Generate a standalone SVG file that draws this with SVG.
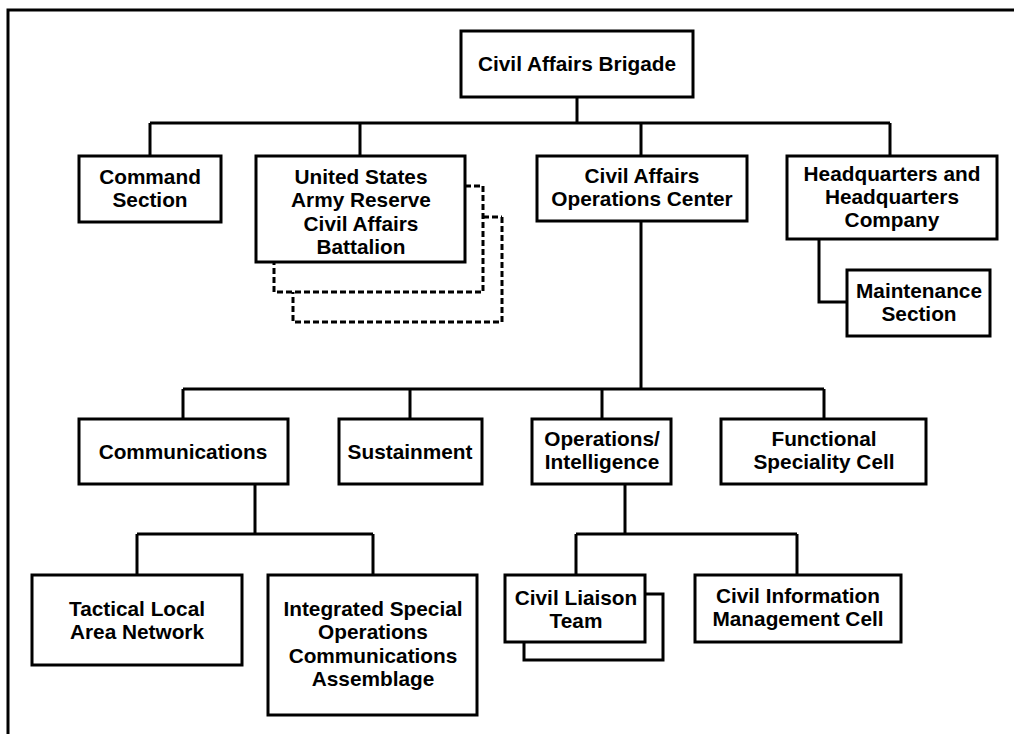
<svg xmlns="http://www.w3.org/2000/svg" width="1014" height="734" viewBox="0 0 1014 734">
<style>
.box{fill:#fff;stroke:#000;stroke-width:3}
.sh{fill:none;stroke:#000;stroke-width:3}
.dash{fill:none;stroke:#000;stroke-width:3;stroke-dasharray:6 3}
.ln{fill:none;stroke:#000;stroke-width:3}
text{font-family:"Liberation Sans",Arial,sans-serif;font-weight:bold;font-size:20.8px;text-anchor:middle;fill:#000}
</style>
<rect width="1014" height="734" fill="#fff"/>
<polyline class="ln" points="8,734 8,10 1014,10"/>
<g id="connectors">
<path class="ln" d="M577,97 V123 M150,123 H890 M150,123 V156 M360,123 V156 M641,123 V156 M890,123 V156"/>
<path class="ln" d="M819,239 V302 H847"/>
<path class="ln" d="M641,221 V389 M183,389 H824 M183,389 V419 M410,389 V419 M602,389 V419 M824,389 V419"/>
<path class="ln" d="M255,484 V534 M137,534 H373 M137,534 V575 M373,534 V575"/>
<path class="ln" d="M625,484 V534 M576,534 H797 M576,534 V575 M797,534 V575"/>
</g>
<g id="brigade"><rect class="box" x="461" y="31" width="232" height="66"/><text x="577" y="71">Civil Affairs Brigade</text></g>
<g id="command"><rect class="box" x="79" y="156" width="142" height="66"/><text x="150" y="184">Command</text><text x="150" y="207">Section</text></g>
<g id="usar">
<polyline class="dash" points="502,217 502,322 293,322 293,292"/>
<polyline class="dash" points="465,186 483,186 483,292 274,292 274,262"/>
<polyline class="dash" points="483,217 502,217"/>
<rect class="box" x="256" y="156" width="209" height="106"/>
<text x="361" y="184">United States</text><text x="361" y="207">Army Reserve</text><text x="361" y="231">Civil Affairs</text><text x="361" y="254">Battalion</text></g>
<g id="caoc"><rect class="box" x="537" y="156" width="210" height="65"/><text x="642" y="183">Civil Affairs</text><text x="642" y="206">Operations Center</text></g>
<g id="hhc"><rect class="box" x="787" y="156" width="210" height="83"/><text x="892" y="181">Headquarters and</text><text x="892" y="204">Headquarters</text><text x="892" y="227">Company</text></g>
<g id="maintenance"><rect class="box" x="847" y="270" width="143" height="66"/><text x="919" y="298">Maintenance</text><text x="919" y="321">Section</text></g>
<g id="communications"><rect class="box" x="79" y="419" width="209" height="65"/><text x="183" y="459">Communications</text></g>
<g id="sustainment"><rect class="box" x="339" y="419" width="143" height="65"/><text x="410" y="459">Sustainment</text></g>
<g id="opsintel"><rect class="box" x="532" y="419" width="139" height="65"/><text x="602" y="446">Operations/</text><text x="602" y="469">Intelligence</text></g>
<g id="functional"><rect class="box" x="721" y="419" width="205" height="65"/><text x="824" y="446">Functional</text><text x="824" y="469">Speciality Cell</text></g>
<g id="tlan"><rect class="box" x="32" y="575" width="210" height="90"/><text x="137" y="616">Tactical Local</text><text x="137" y="639">Area Network</text></g>
<g id="isoca"><rect class="box" x="268" y="575" width="209" height="140"/><text x="373" y="616">Integrated Special</text><text x="373" y="639">Operations</text><text x="373" y="663">Communications</text><text x="373" y="686">Assemblage</text></g>
<g id="clt"><polyline class="sh" points="645,594 663,594 663,660 524,660 524,642"/><rect class="box" x="505" y="575" width="140" height="67"/><text x="576" y="605">Civil Liaison</text><text x="576" y="628">Team</text></g>
<g id="cimc"><rect class="box" x="695" y="575" width="206" height="67"/><text x="798" y="603">Civil Information</text><text x="798" y="626">Management Cell</text></g>
</svg>
